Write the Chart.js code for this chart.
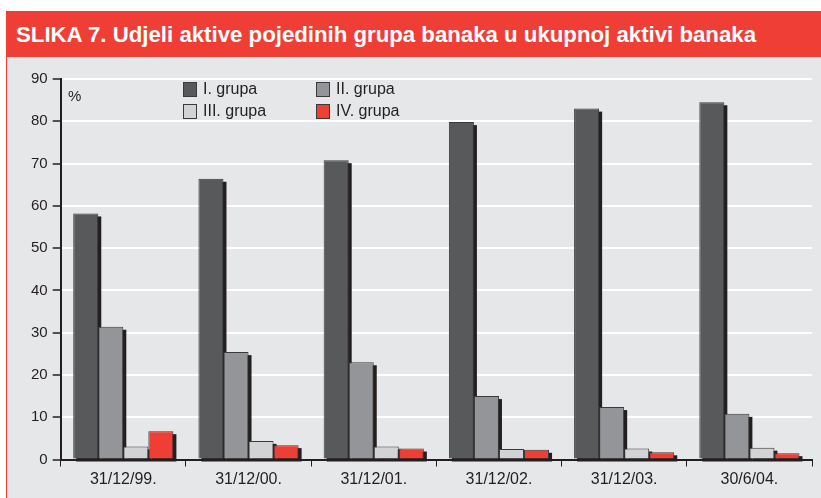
<!DOCTYPE html>
<html>
<head>
<meta charset="utf-8">
<script src="https://cdn.jsdelivr.net/npm/chart.js@4/dist/chart.umd.min.js"></script>
<style>
  html, body { margin: 0; padding: 0; background: #ffffff; width: 821px; height: 498px; overflow: hidden; }
  #band { position: absolute; left: 6px; top: 11px; width: 815px; height: 46px; background: #ef3e36; }
  #title { position: absolute; left: 16px; top: 15px; color: #ffffff; font-family: "Liberation Sans", Arial, sans-serif; font-weight: bold; font-size: 22px; line-height: 40px; white-space: nowrap; transform-origin: 0 0; }
  #panel { position: absolute; left: 6px; top: 57px; width: 815px; height: 441px; background: #e6e7e8; border-left: 1px solid #ef3e36; box-sizing: border-box; }
  #wrap { position: absolute; left: 5px; top: 57px; width: 816px; height: 441px; }
</style>
</head>
<body>
<div id="band"></div>
<div id="title">SLIKA 7. Udjeli aktive pojedinih grupa banaka u ukupnoj aktivi banaka</div>
<div id="panel"></div>
<div id="wrap"><canvas id="c" width="816" height="441"></canvas></div>
<script>
const categories = ["31/12/99.", "31/12/00.", "31/12/01.", "31/12/02.", "31/12/03.", "30/6/04."];
const seriesNames = ["I. grupa", "II. grupa", "III. grupa", "IV. grupa"];
const grupaI   = [58.2, 66.4, 70.8, 79.8, 83.0, 84.5];
const grupaII  = [31.4, 25.4, 23.0, 15.0, 12.4, 10.8];
const grupaIII = [3.1, 4.4, 3.1, 2.5, 2.6, 2.8];
const grupaIV  = [6.7, 3.4, 2.6, 2.3, 1.7, 1.5];
const yTicks = [0, 10, 20, 30, 40, 50, 60, 70, 80, 90];
const unitLabel = "%";

// match the reference title width
(function () {
  const t = document.getElementById('title');
  const w = t.getBoundingClientRect().width;
  t.style.transform = 'scaleX(' + (740 / w) + ')';
})();

const colors = ["#58595b", "#939598", "#d1d3d4", "#ef3e33"];
const values = [grupaI, grupaII, grupaIII, grupaIV];
const textColor = "#231f20";
const fontFam = "'Liberation Sans', Arial, Helvetica, sans-serif";

const shadowPlugin = {
  id: 'shadowBars',
  beforeDatasetsDraw(chart) {
    const ctx = chart.ctx;
    ctx.save();
    ctx.fillStyle = '#231f20';
    chart.data.datasets.forEach((ds, i) => {
      const meta = chart.getDatasetMeta(i);
      meta.data.forEach(el => {
        const p = el.getProps(['x', 'y', 'base', 'width'], true);
        const left = p.x - p.width / 2;
        const top = Math.min(p.y, p.base);
        const h = Math.abs(p.base - p.y);
        ctx.fillRect(left + 3, top + 3, p.width, h);
      });
    });
    ctx.restore();
  }
};

const legendPlugin = {
  id: 'customLegend',
  afterDraw(chart) {
    const ctx = chart.ctx;
    ctx.save();
    const pos = [[178, 25], [311, 25], [178, 47], [311, 47]];
    chart.data.datasets.forEach((ds, i) => {
      const [x, y] = pos[i];
      ctx.fillStyle = ds.backgroundColor;
      ctx.fillRect(x, y, 14, 15);
      ctx.strokeStyle = '#3a3a3a';
      ctx.lineWidth = 1;
      ctx.strokeRect(x + 0.5, y + 0.5, 13, 14);
      ctx.fillStyle = textColor;
      ctx.font = "16px " + fontFam;
      ctx.textBaseline = 'middle';
      ctx.textAlign = 'left';
      ctx.fillText(ds.label, x + 20, y + 8);
    });
    ctx.font = "15px " + fontFam;
    ctx.textBaseline = 'middle';
    ctx.fillText(unitLabel, 63, 40);
    ctx.restore();
  }
};

new Chart(document.getElementById('c'), {
  type: 'bar',
  data: {
    labels: categories,
    datasets: seriesNames.map((name, i) => ({
      label: name,
      data: values[i],
      backgroundColor: colors[i],
      borderColor: '#3a3a3a',
      borderWidth: 1,
      borderSkipped: 'bottom',
      clip: false,
      categoryPercentage: 0.8,
      barPercentage: 1.0
    }))
  },
  options: {
    responsive: false,
    animation: false,
    devicePixelRatio: 1,
    layout: { padding: { left: 0, top: 22, right: 9, bottom: 0 } },
    plugins: { legend: { display: false }, tooltip: { enabled: false }, title: { display: false } },
    scales: {
      x: {
        offset: true,
        grid: { display: true, drawOnChartArea: false, drawTicks: true, tickLength: 7, tickColor: textColor, tickWidth: 1, offset: true },
        border: { display: true, color: textColor, width: 2 },
        ticks: { color: textColor, font: { family: fontFam, size: 16 }, padding: 3, maxRotation: 0, autoSkip: false },
        afterFit(scale) { scale.height = 38.5; }
      },
      y: {
        min: 0, max: 90,
        afterBuildTicks(scale) { scale.ticks = yTicks.map(v => ({ value: v })); },
        grid: { color: '#ffffff', lineWidth: 2, drawTicks: true, tickLength: 8, tickColor: textColor, tickWidth: 1.5 },
        border: { display: true, color: textColor, width: 2 },
        ticks: { color: textColor, font: { family: fontFam, size: 15 }, padding: 5 },
        afterFit(scale) { scale.width = 55.7; }
      }
    }
  },
  plugins: [shadowPlugin, legendPlugin]
});
</script>
</body>
</html>
